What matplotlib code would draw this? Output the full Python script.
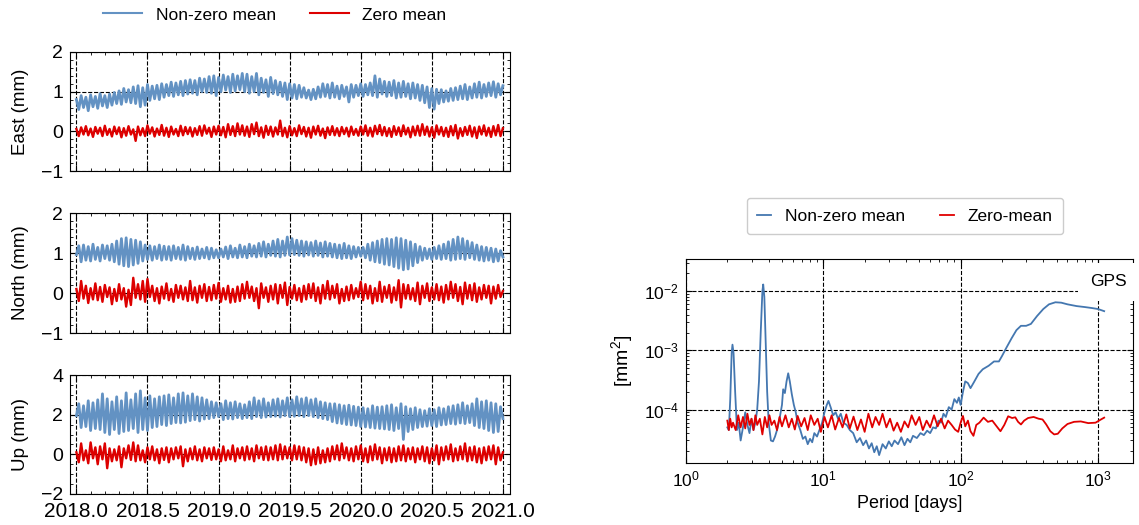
import numpy as np
import matplotlib
matplotlib.use("Agg")
import matplotlib.pyplot as plt
from matplotlib.ticker import MultipleLocator, LogLocator, NullFormatter

plt.rcParams['font.family'] = ['Liberation Sans', 'DejaVu Sans']
plt.rcParams['font.size'] = 13
plt.rcParams['mathtext.fontset'] = 'custom'
plt.rcParams['mathtext.rm'] = 'Liberation Sans'
plt.rcParams['mathtext.it'] = 'Liberation Sans:italic'
plt.rcParams['xtick.direction'] = 'in'
plt.rcParams['ytick.direction'] = 'in'
plt.rcParams['xtick.top'] = True
plt.rcParams['ytick.right'] = True
plt.rcParams['xtick.major.size'] = 4
plt.rcParams['ytick.major.size'] = 4
plt.rcParams['xtick.minor.size'] = 2.5
plt.rcParams['ytick.minor.size'] = 2.5

# solutions sampled every ~6 days, 2018.0 .. 2021.0 (12 values = 0.2 yr per row)
t_start, t_end, n_epochs = 2018.0, 2021.0, 181

east_nonzero = [
    0.80, 0.55, 0.90, 0.60, 0.86, 0.52, 0.92, 0.62, 0.88, 0.58, 0.95, 0.64,
    0.90, 0.60, 0.94, 0.66, 0.98, 0.70, 1.02, 0.68, 1.08, 0.74, 1.05, 0.72,
    1.12, 0.70, 1.15, 0.62, 1.10, 0.66, 1.18, 0.78, 1.14, 0.82, 1.16, 0.80,
    1.20, 0.86, 1.18, 0.90, 1.24, 0.88, 1.22, 0.92, 1.26, 0.90, 1.28, 0.94,
    1.30, 0.96, 1.28, 0.92, 1.34, 1.00, 1.32, 0.98, 1.38, 0.96, 1.40, 0.90,
    1.36, 1.00, 1.42, 1.04, 1.38, 0.98, 1.44, 1.02, 1.40, 1.05, 1.46, 1.00,
    1.44, 0.96, 1.38, 1.00, 1.46, 0.92, 1.34, 0.98, 1.30, 0.88, 1.36, 0.95,
    1.28, 0.92, 1.24, 0.88, 1.22, 0.80, 1.20, 0.84, 1.18, 0.82, 1.16, 0.86,
    1.10, 0.84, 1.04, 0.80, 1.06, 0.82, 1.12, 0.86, 1.20, 0.88, 1.18, 0.84,
    1.22, 0.86, 1.14, 0.82, 1.16, 0.88, 1.12, 0.74, 1.18, 0.86, 1.16, 0.90,
    1.20, 0.88, 1.18, 0.92, 1.22, 0.90, 1.40, 0.86, 1.32, 0.94, 1.26, 0.88,
    1.24, 0.90, 1.28, 0.84, 1.22, 0.86, 1.26, 0.88, 1.20, 0.82, 1.22, 0.84,
    1.18, 0.78, 1.16, 0.72, 1.12, 0.60, 1.08, 0.56, 1.06, 0.70, 1.05, 0.74,
    1.02, 0.76, 1.08, 0.78, 1.10, 0.80, 1.14, 0.82, 1.18, 0.80, 1.12, 0.84,
    1.20, 0.86, 1.24, 0.84, 1.18, 0.88, 1.22, 0.90, 1.25, 0.86, 1.20, 0.92,
    1.15]
east_zero = [
    0.06, -0.12, 0.10, -0.08, 0.13, -0.10, 0.07, -0.14, 0.11, -0.06, 0.09, -0.12,
    0.14, -0.09, 0.06, -0.13, 0.12, -0.07, 0.10, -0.15, 0.08, -0.11, 0.13, -0.08,
    0.05, -0.24, 0.12, -0.10, 0.08, -0.12, 0.15, -0.06, 0.10, -0.13, 0.07, -0.09,
    0.16, -0.11, 0.09, -0.14, 0.12, -0.08, 0.06, -0.12, 0.14, -0.10, 0.11, -0.07,
    0.10, -0.13, 0.08, -0.09, 0.13, -0.11, 0.15, -0.06, 0.09, -0.14, 0.12, -0.08,
    0.14, -0.10, 0.11, -0.15, 0.18, -0.09, 0.13, -0.12, 0.20, -0.08, 0.15, -0.11,
    0.12, -0.14, 0.18, -0.07, 0.22, -0.12, 0.10, -0.16, 0.14, -0.09, 0.12, -0.13,
    0.10, -0.08, 0.27, -0.12, 0.09, -0.15, 0.13, -0.10, 0.08, -0.12, 0.15, -0.07,
    0.11, -0.13, 0.09, -0.16, 0.12, -0.08, 0.14, -0.11, 0.07, -0.17, 0.10, -0.09,
    0.13, -0.10, 0.08, -0.12, 0.11, -0.07, 0.09, -0.13, 0.12, -0.09, 0.06, -0.11,
    0.12, -0.08, 0.15, -0.11, 0.09, -0.13, 0.14, -0.07, 0.16, -0.10, 0.11, -0.12,
    0.08, -0.14, 0.13, -0.09, 0.10, -0.12, 0.15, -0.08, 0.09, -0.15, 0.12, -0.10,
    0.14, -0.11, 0.18, -0.09, 0.12, -0.13, 0.10, -0.16, 0.15, -0.08, 0.11, -0.12,
    0.09, -0.14, 0.13, -0.10, 0.16, -0.18, 0.08, -0.12, 0.11, -0.09, 0.14, -0.13,
    0.10, -0.17, 0.12, -0.08, 0.15, -0.11, 0.09, -0.14, 0.13, -0.10, 0.16, -0.12,
    0.08]

north_nonzero = [
    0.96, 1.18, 0.78, 1.20, 0.82, 1.16, 0.80, 1.22, 0.84, 1.14, 0.80, 1.20,
    0.86, 1.18, 0.82, 1.22, 0.78, 1.30, 0.72, 1.36, 0.68, 1.38, 0.66, 1.34,
    0.70, 1.32, 0.74, 1.28, 0.80, 1.20, 0.84, 1.18, 0.82, 1.16, 0.86, 1.20,
    0.82, 1.17, 0.84, 1.16, 0.82, 1.18, 0.86, 1.14, 0.84, 1.20, 0.82, 1.16,
    0.86, 1.12, 0.84, 1.15, 0.86, 1.10, 0.88, 1.14, 0.85, 1.12, 0.88, 1.08,
    0.88, 1.10, 0.90, 1.15, 0.86, 1.18, 0.90, 1.12, 0.88, 1.20, 0.90, 1.16,
    0.88, 1.22, 0.92, 1.18, 0.90, 1.24, 0.92, 1.28, 0.90, 1.22, 0.94, 1.30,
    0.92, 1.34, 0.90, 1.30, 0.94, 1.40, 0.95, 1.36, 0.96, 1.32, 0.94, 1.30,
    0.92, 1.28, 0.95, 1.26, 0.92, 1.30, 0.94, 1.25, 0.90, 1.28, 0.92, 1.24,
    0.90, 1.22, 0.88, 1.20, 0.86, 1.24, 0.88, 1.18, 0.86, 1.16, 0.90, 1.14,
    0.92, 1.14, 0.88, 1.22, 0.82, 1.26, 0.78, 1.30, 0.76, 1.34, 0.72, 1.36,
    0.70, 1.34, 0.66, 1.38, 0.62, 1.36, 0.58, 1.32, 0.60, 1.28, 0.68, 1.22,
    0.76, 1.16, 0.82, 1.12, 0.86, 1.10, 0.84, 1.14, 0.86, 1.18, 0.84, 1.22,
    0.86, 1.28, 0.82, 1.34, 0.84, 1.40, 0.86, 1.36, 0.84, 1.30, 0.88, 1.26,
    0.84, 1.20, 0.82, 1.16, 0.80, 1.14, 0.82, 1.12, 0.78, 1.10, 0.80, 1.06,
    0.90]
north_zero = [
    0.10, -0.20, 0.30, -0.14, 0.18, -0.25, 0.12, -0.16, 0.24, -0.18, 0.15, -0.22,
    0.20, -0.10, 0.14, -0.28, 0.10, -0.20, 0.22, -0.16, 0.12, -0.34, 0.08, -0.30,
    0.38, -0.12, 0.22, -0.16, 0.30, -0.22, 0.35, -0.10, 0.18, -0.20, 0.12, -0.26,
    0.16, -0.14, 0.24, -0.18, 0.10, -0.22, 0.20, -0.12, 0.18, -0.16, 0.14, -0.20,
    0.30, -0.18, 0.14, -0.24, 0.18, -0.12, 0.22, -0.20, 0.15, -0.18, 0.20, -0.14,
    0.25, -0.22, 0.12, -0.16, 0.18, -0.24, 0.10, -0.22, 0.16, -0.20, 0.22, -0.14,
    0.28, -0.12, 0.16, -0.20, 0.12, -0.38, 0.24, -0.12, 0.14, -0.22, 0.18, -0.16,
    0.22, -0.26, 0.20, -0.12, 0.26, -0.30, 0.15, -0.14, 0.20, -0.18, 0.12, -0.22,
    0.18, -0.16, 0.22, -0.12, 0.24, -0.20, 0.14, -0.26, 0.20, -0.14, 0.30, -0.16,
    0.18, -0.12, 0.22, -0.26, 0.10, -0.20, 0.16, -0.18, 0.20, -0.14, 0.12, -0.10,
    0.28, -0.18, 0.22, -0.14, 0.18, -0.26, 0.12, -0.20, 0.28, -0.22, 0.16, -0.12,
    0.20, -0.24, 0.14, -0.18, 0.32, -0.36, 0.22, -0.14, 0.20, -0.16, 0.12, -0.20,
    0.26, -0.28, 0.18, -0.12, 0.24, -0.20, 0.14, -0.16, 0.22, -0.18, 0.16, -0.24,
    0.20, -0.16, 0.28, -0.12, 0.22, -0.20, 0.15, -0.28, 0.26, -0.14, 0.20, -0.18,
    0.24, -0.22, 0.14, -0.16, 0.20, -0.12, 0.18, -0.26, 0.16, -0.14, 0.20, -0.10,
    0.05]

up_nonzero = [
    1.95, 2.55, 1.35, 2.45, 1.40, 2.70, 1.20, 2.60, 1.30, 2.75, 1.25, 3.05,
    1.10, 2.80, 1.00, 2.65, 1.25, 2.90, 1.05, 2.70, 1.15, 3.10, 1.20, 2.75,
    1.30, 3.05, 1.10, 3.20, 1.25, 2.85, 1.20, 2.95, 1.35, 2.80, 1.40, 2.90,
    1.50, 2.95, 1.45, 3.00, 1.55, 2.85, 1.60, 3.05, 1.58, 3.10, 1.62, 2.95,
    1.70, 3.05, 1.75, 2.90, 1.68, 2.85, 1.78, 2.75, 1.80, 2.65, 1.85, 2.60,
    1.90, 2.55, 1.75, 2.70, 1.80, 2.60, 1.78, 2.65, 1.85, 2.55, 1.80, 2.50,
    1.85, 2.65, 1.80, 2.85, 1.90, 2.70, 1.85, 2.80, 1.88, 2.60, 1.90, 2.75,
    1.92, 2.80, 1.88, 2.70, 1.95, 2.85, 1.90, 2.75, 1.92, 2.90, 1.95, 2.80,
    1.90, 2.85, 1.95, 2.75, 1.90, 2.80, 1.85, 2.65, 1.80, 2.60, 1.75, 2.55,
    1.65, 2.55, 1.58, 2.50, 1.55, 2.45, 1.50, 2.48, 1.48, 2.42, 1.45, 2.38,
    1.40, 2.35, 1.38, 2.30, 1.35, 2.45, 1.32, 2.38, 1.30, 2.40, 1.28, 2.45,
    1.25, 2.50, 1.20, 2.35, 1.30, 2.55, 0.75, 2.40, 1.15, 2.30, 1.25, 2.35,
    1.35, 2.25, 1.40, 2.20, 1.42, 2.30, 1.45, 2.25, 1.40, 2.35, 1.48, 2.30,
    1.50, 2.40, 1.55, 2.45, 1.52, 2.50, 1.58, 2.60, 1.55, 2.45, 1.60, 2.55,
    1.45, 2.80, 1.35, 2.65, 1.30, 2.70, 1.20, 2.60, 1.10, 2.55, 1.15, 2.40,
    1.80]
up_zero = [
    0.10, -0.40, 0.55, -0.30, 0.20, -0.45, 0.60, -0.20, 0.35, -0.50, 0.40, -0.25,
    0.55, -0.70, 0.30, -0.35, 0.25, -0.30, 0.40, -0.65, 0.30, -0.20, 0.45, -0.28,
    0.60, -0.35, 0.45, -0.30, 0.20, -0.40, 0.35, -0.25, 0.40, -0.30, 0.25, -0.45,
    0.30, -0.28, 0.35, -0.40, 0.30, -0.25, 0.35, -0.20, 0.40, -0.60, 0.25, -0.35,
    0.30, -0.25, 0.40, -0.30, 0.25, -0.35, 0.35, -0.20, 0.30, -0.28, 0.35, -0.25,
    0.25, -0.35, 0.40, -0.30, 0.20, -0.25, 0.45, -0.35, 0.30, -0.20, 0.35, -0.30,
    0.40, -0.25, 0.30, -0.35, 0.45, -0.20, 0.35, -0.28, 0.40, -0.30, 0.35, -0.25,
    0.45, -0.30, 0.50, -0.25, 0.40, -0.20, 0.35, -0.30, 0.45, -0.25, 0.40, -0.30,
    0.35, -0.40, 0.30, -0.55, 0.25, -0.50, 0.35, -0.45, 0.20, -0.40, 0.30, -0.35,
    0.40, -0.25, 0.45, -0.30, 0.55, -0.20, 0.35, -0.30, 0.30, -0.35, 0.40, -0.25,
    0.45, -0.35, 0.30, -0.40, 0.40, -0.30, 0.50, -0.25, 0.35, -0.45, 0.30, -0.30,
    0.35, -0.40, 0.30, -0.35, 0.40, -0.30, 0.45, -0.35, 0.30, -0.25, 0.35, -0.40,
    0.30, -0.25, 0.40, -0.35, 0.35, -0.45, 0.30, -0.30, 0.45, -0.50, 0.35, -0.30,
    0.40, -0.25, 0.50, -0.35, 0.30, -0.30, 0.40, -0.25, 0.55, -0.35, 0.35, -0.30,
    0.40, -0.40, 0.30, -0.45, 0.35, -0.30, 0.40, -0.25, 0.45, -0.50, 0.35, -0.30,
    0.10]

# power spectra, period in days, power in mm^2
psd_period_nonzero = [
    2.0, 2.05, 2.1, 2.15, 2.18, 2.22, 2.28, 2.35, 2.42, 2.5,
    2.6, 2.7, 2.8, 2.9, 3.0, 3.1, 3.2, 3.3, 3.4, 3.5,
    3.6, 3.65, 3.72, 3.8, 3.9, 4.0, 4.15, 4.3, 4.45, 4.6,
    4.8, 5.0, 5.1, 5.25, 5.4, 5.55, 5.7, 5.9, 6.1, 6.3,
    6.5, 6.8, 7.1, 7.4, 7.7, 8.0, 8.3, 8.6, 9.0, 9.4,
    9.8, 10.2, 10.6, 10.9, 11.3, 11.8, 12.3, 12.8, 13.4, 14,
    14.8, 15.6, 16.5, 17.5, 18.5, 19.5, 20.5, 21.5, 22.5, 23.5,
    24.5, 25.5, 27, 28.5, 30, 31.5, 33, 35, 37, 39,
    41, 43, 45, 48, 51, 54, 57, 60, 63, 66,
    69, 72, 75, 78, 82, 86, 90, 94, 97, 100,
    104, 108, 113, 118, 125, 135, 145, 160, 175, 190,
    200, 215, 235, 255, 275, 300, 325, 360, 400, 440,
    490, 540, 600, 700, 800, 900, 1000, 1110]
psd_nonzero = [
    5e-5, 4.5e-5, 1.5e-4, 9e-4, 1.25e-3, 9e-4, 2e-4, 4.5e-5, 6e-5, 3e-5,
    5e-5, 9e-5, 5.5e-5, 4e-5, 7e-5, 4.5e-5, 6e-5, 1e-4, 3e-4, 2e-3,
    1e-2, 1.3e-2, 8e-3, 1.5e-3, 2e-4, 6e-5, 3e-5, 2.9e-5, 3.5e-5, 4.5e-5,
    7e-5, 1.2e-4, 2.2e-4, 1.9e-4, 3e-4, 4.1e-4, 3e-4, 1.8e-4, 1.2e-4, 9e-5,
    6e-5, 4.5e-5, 3.2e-5, 3.5e-5, 2.6e-5, 3.2e-5, 2.8e-5, 4e-5, 3.5e-5, 4.6e-5,
    6e-5, 9e-5, 1.2e-4, 1.4e-4, 1.1e-4, 8e-5, 9e-5, 7e-5, 8.5e-5, 6e-5,
    5.5e-5, 4.5e-5, 4e-5, 2.8e-5, 3.3e-5, 2.5e-5, 3e-5, 2.2e-5, 2.7e-5, 1.9e-5,
    2.4e-5, 1.7e-5, 2.6e-5, 2.2e-5, 2.9e-5, 2.4e-5, 3e-5, 2.6e-5, 3.4e-5, 2.5e-5,
    3.2e-5, 2.8e-5, 3.6e-5, 3.3e-5, 4e-5, 3.7e-5, 4.4e-5, 4e-5, 5e-5, 4.8e-5,
    6.5e-5, 6e-5, 8.5e-5, 7.5e-5, 1.1e-4, 1e-4, 1.5e-4, 1.3e-4, 1.6e-4, 1.2e-4,
    2e-4, 3e-4, 2.8e-4, 2.3e-4, 2.9e-4, 4e-4, 4.8e-4, 5.5e-4, 6.5e-4, 6.5e-4,
    8e-4, 1.1e-3, 1.6e-3, 2.2e-3, 2.6e-3, 2.6e-3, 2.8e-3, 3.8e-3, 5e-3, 6e-3,
    6.5e-3, 6.4e-3, 6e-3, 5.6e-3, 5.4e-3, 5.2e-3, 5e-3, 4.6e-3]

psd_period_zero = [
    2.0, 2.05, 2.1, 2.15, 2.2, 2.3, 2.4, 2.5, 2.6, 2.7,
    2.8, 2.9, 3.0, 3.1, 3.2, 3.3, 3.45, 3.6, 3.75, 3.9,
    4.05, 4.2, 4.4, 4.6, 4.8, 5.0, 5.3, 5.6, 5.9, 6.2,
    6.5, 6.9, 7.3, 7.7, 8.1, 8.6, 9.1, 9.6, 10.2, 10.8,
    11.5, 12.2, 13, 13.8, 14.7, 15.6, 16.6, 17.7, 18.8, 20,
    21.3, 22.7, 24, 25.5, 27, 28.8, 30.6, 32.5, 34.5, 36.7,
    39, 41.5, 44, 47, 50, 53, 56.5, 60, 64, 68,
    72, 76.5, 81, 86, 91, 96, 100, 104, 108, 113,
    118, 124, 130, 137, 147, 158, 170, 183, 195, 208,
    222, 237, 250, 262, 275, 290, 310, 340, 370, 395,
    420, 450, 480, 510, 550, 600, 670, 750, 850, 960,
    1040, 1110]
psd_zero = [
    6.5e-5, 4.5e-5, 7e-5, 5e-5, 6e-5, 4.5e-5, 8e-5, 5e-5, 7.5e-5, 4.8e-5,
    8.5e-5, 5.5e-5, 7e-5, 4.5e-5, 8e-5, 5.5e-5, 7e-5, 3.8e-5, 7.5e-5, 5e-5,
    8e-5, 5.5e-5, 6.5e-5, 4.5e-5, 7.5e-5, 5.2e-5, 8e-5, 5e-5, 7e-5, 4.6e-5,
    7.8e-5, 5.2e-5, 7.2e-5, 4.5e-5, 8e-5, 5.5e-5, 7e-5, 4.2e-5, 7.5e-5, 5e-5,
    8e-5, 4.6e-5, 7.2e-5, 5e-5, 8.3e-5, 4.8e-5, 7.6e-5, 4.5e-5, 6.8e-5, 4.2e-5,
    8.5e-5, 5e-5, 7.5e-5, 5.5e-5, 8.5e-5, 5e-5, 7e-5, 4.4e-5, 6e-5, 4.2e-5,
    6.3e-5, 5e-5, 8e-5, 5.5e-5, 7.5e-5, 4.5e-5, 6.5e-5, 5e-5, 8e-5, 5.2e-5,
    7e-5, 4.8e-5, 6.5e-5, 5.5e-5, 4.6e-5, 4.2e-5, 6e-5, 7.8e-5, 5.2e-5, 6.5e-5,
    4.3e-5, 3.6e-5, 5.5e-5, 6e-5, 7.3e-5, 6.2e-5, 6.5e-5, 5.2e-5, 4.3e-5, 5.5e-5,
    7.7e-5, 7.2e-5, 7.4e-5, 6.2e-5, 5.6e-5, 6.5e-5, 7.2e-5, 7.5e-5, 7e-5, 6.8e-5,
    5.6e-5, 4.3e-5, 3.8e-5, 3.9e-5, 4.8e-5, 5.7e-5, 6.2e-5, 6.3e-5, 5.9e-5, 6e-5,
    6.7e-5, 7.3e-5]

components = ['East', 'North', 'Up']
nonzero_series = [east_nonzero, north_nonzero, up_nonzero]
zero_series = [east_zero, north_zero, up_zero]
ylims = [(-1, 2), (-1, 2), (-2, 4)]
ymajor = [1, 1, 2]
yminor = [0.2, 0.2, 0.5]

blue_left = '#6392c3'
red_left = '#dd0000'
blue_right = '#4477b0'
red_right = '#e00000'

W, H = 1139, 525
fig = plt.figure(figsize=(W / 100, H / 100), dpi=100)

# pixel boxes (left, top, right, bottom)
boxes = [(70, 52, 510, 171), (70, 213, 510, 333), (70, 375, 510, 494)]
t = np.linspace(t_start, t_end, n_epochs)

left_axes = []
for k, (x0, y0, x1, y1) in enumerate(boxes):
    ax = fig.add_axes([x0 / W, 1 - y1 / H, (x1 - x0) / W, (y1 - y0) / H])
    ax.plot(t, nonzero_series[k], color=blue_left, lw=2.0, label='Non-zero mean', zorder=3)
    ax.plot(t, zero_series[k], color=red_left, lw=1.7, label='Zero mean', zorder=3)
    ax.set_xlim(2017.955, 2021.05)
    ax.set_ylim(*ylims[k])
    ax.xaxis.set_major_locator(MultipleLocator(0.5))
    ax.xaxis.set_minor_locator(MultipleLocator(0.1))
    ax.yaxis.set_major_locator(MultipleLocator(ymajor[k]))
    ax.yaxis.set_minor_locator(MultipleLocator(yminor[k]))
    ax.grid(True, which='major', ls='--', color='k', lw=0.8, zorder=1)
    ax.set_axisbelow(True)
    ax.tick_params(axis='y', labelsize=14, pad=5)
    ax.tick_params(axis='x', labelsize=15, pad=6)
    ax.set_ylabel(components[k] + ' (mm)', fontsize=13.5)
    ax.yaxis.set_label_coords(-0.093, 0.5)
    if k < 2:
        ax.tick_params(labelbottom=False)
    else:
        ax.xaxis.set_major_formatter(plt.FormatStrFormatter('%.1f'))
    left_axes.append(ax)

handles, labels = left_axes[0].get_legend_handles_labels()
leg = fig.legend(handles, labels, loc='center', bbox_to_anchor=(275 / W, 1 - 15 / H),
                 ncol=2, frameon=False, handlelength=2.2, columnspacing=2.0, fontsize=12.5)
for line in leg.get_lines():
    line.set_linewidth(1.5)

# spectrum panel
x0, y0, x1, y1 = 686, 259, 1133, 463
axr = fig.add_axes([x0 / W, 1 - y1 / H, (x1 - x0) / W, (y1 - y0) / H])
axr.loglog(psd_period_nonzero, psd_nonzero, color=blue_right, lw=1.3, label='Non-zero mean', zorder=3)
axr.loglog(psd_period_zero, psd_zero, color=red_right, lw=1.3, label='Zero-mean', zorder=3)
axr.set_xlim(1, 1800)
axr.set_ylim(1.25e-5, 3.5e-2)
axr.xaxis.set_major_locator(LogLocator(base=10, numticks=10))
axr.xaxis.set_minor_locator(LogLocator(base=10, subs=np.arange(2, 10), numticks=20))
axr.xaxis.set_minor_formatter(NullFormatter())
axr.yaxis.set_major_locator(LogLocator(base=10, numticks=10))
axr.yaxis.set_minor_locator(LogLocator(base=10, subs=np.arange(2, 10), numticks=20))
axr.yaxis.set_minor_formatter(NullFormatter())
axr.grid(True, which='major', ls='--', color='k', lw=0.8, zorder=1)
axr.set_axisbelow(True)
axr.tick_params(labelsize=12.5, pad=5)
axr.set_xlabel('Period [days]', fontsize=13)
axr.set_ylabel('[mm$^2$]', fontsize=14)
axr.yaxis.set_label_coords(-0.115, 0.5)
axr.text(0.985, 0.925, 'GPS', transform=axr.transAxes, ha='right', va='top',
         fontsize=12.5, zorder=4,
         bbox=dict(boxstyle='square,pad=0.65', facecolor='white', edgecolor='none'))
axr.legend(loc='lower center', bbox_to_anchor=(0.49, 1.08), ncol=2, handlelength=0.8,
           columnspacing=2.0, fancybox=True, edgecolor='#cccccc', framealpha=1,
           fontsize=12.5, borderpad=0.6)

fig.savefig('out.png', dpi=100)
